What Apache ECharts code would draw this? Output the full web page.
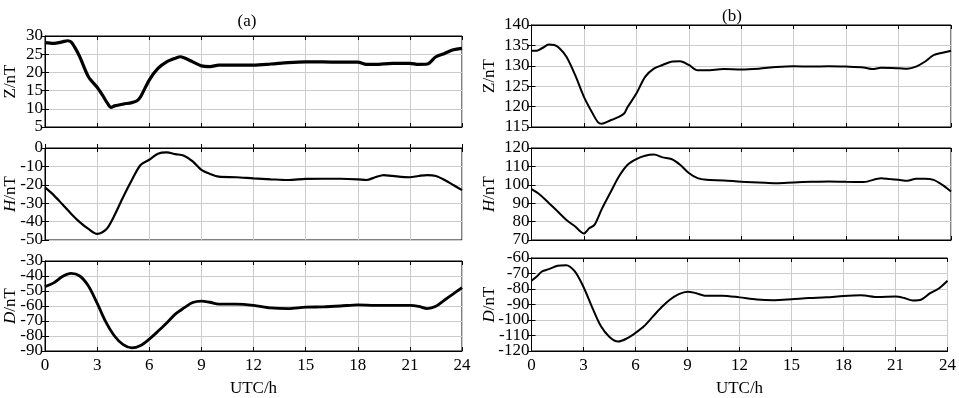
<!DOCTYPE html>
<html>
<head>
<meta charset="utf-8">
<script src="https://cdn.jsdelivr.net/npm/echarts@6/dist/echarts.min.js"></script>
<style>
  html, body { margin: 0; padding: 0; background: #fff; }
  #chart { width: 959px; height: 398px; }
</style>
</head>
<body>
<div id="chart"></div>
<script>
// y轴刻度文字 (从下到上)
const ticksZa = ["5", "10", "15", "20", "25", "30"];
const ticksHa = ["-50", "-40", "-30", "-20", "-10", "0"];
const ticksDa = ["-90", "-80", "-70", "-60", "-50", "-40", "-30"];
const ticksZb = ["115", "120", "125", "130", "135", "140"];
const ticksHb = ["70", "80", "90", "100", "110", "120"];
const ticksDb = ["-120", "-110", "-100", "-90", "-80", "-70", "-60"];

// (a) Z 分量
const tZa = [0, 0.5, 1, 1.3, 1.5, 1.7, 2, 2.5, 3, 3.3, 3.6, 3.8, 4, 4.5, 5, 5.3, 5.5, 6, 6.5, 7, 7.5, 7.8, 8, 8.5, 9, 9.5, 10, 11, 12, 13, 14, 15, 16, 17, 18, 18.5, 19, 20, 21, 21.5, 22, 22.5, 23, 23.5, 24];
const zA = [28.2, 28, 28.4, 28.7, 28.4, 27, 24.3, 18.8, 15.9, 13.8, 11.5, 10.4, 10.8, 11.3, 11.7, 12.2, 13.3, 17.9, 21.1, 22.9, 23.9, 24.3, 24, 22.9, 21.8, 21.6, 22, 22, 22, 22.3, 22.7, 22.9, 22.9, 22.8, 22.8, 22.2, 22.2, 22.5, 22.5, 22.2, 22.3, 24.3, 25.2, 26.2, 26.6];

// (b) Z 分量
const tZb = [0, 0.3, 0.6, 1, 1.3, 1.6, 2, 2.5, 3, 3.5, 3.8, 4, 4.5, 5, 5.3, 5.5, 6, 6.5, 7, 7.5, 8, 8.5, 9, 9.5, 10, 11, 12, 13, 14, 15, 16, 17, 18, 19, 19.5, 20, 21, 21.5, 22, 22.5, 23, 23.5, 24];
const zB = [133.7, 133.7, 134.3, 135.2, 135.1, 134.3, 132.2, 127.7, 122.4, 118.3, 116.2, 115.8, 116.6, 117.5, 118.3, 119.9, 123.2, 127.3, 129.3, 130.2, 131, 131.1, 130.2, 128.9, 128.9, 129.2, 129.1, 129.3, 129.7, 129.9, 129.8, 129.9, 129.8, 129.6, 129.2, 129.5, 129.4, 129.3, 129.8, 131, 132.6, 133.2, 133.7];

// (a) H 分量
const tHa = [0, 0.5, 1, 1.5, 2, 2.5, 3, 3.3, 3.6, 4, 4.5, 5, 5.5, 6, 6.5, 7, 7.5, 8, 8.5, 9, 9.5, 10, 11, 12, 13, 14, 15, 16, 17, 18, 18.5, 19, 19.5, 20, 21, 21.5, 22, 22.5, 23, 23.5, 24];
const hA = [-21.4, -25.6, -30.6, -35.7, -40.3, -44, -46.7, -45.8, -43.4, -36.6, -26.6, -17.4, -9.2, -6.4, -3.1, -2.4, -3.3, -4.2, -7.3, -11.9, -14.1, -15.6, -15.9, -16.5, -17, -17.4, -16.8, -16.7, -16.7, -17, -17.4, -15.9, -14.7, -15.2, -15.9, -15.2, -14.7, -15.2, -17.4, -20.1, -22.9];

// (b) H 分量
const tHb = [0, 0.5, 1, 1.5, 2, 2.5, 3, 3.3, 3.6, 4, 4.5, 5, 5.5, 6, 6.5, 7, 7.5, 8, 8.5, 9, 9.5, 10, 11, 12, 13, 14, 15, 16, 17, 18, 19, 20, 20.5, 21, 21.5, 22, 22.5, 23, 23.5, 24];
const hB = [97.6, 94.5, 90, 85.5, 80.9, 77.3, 73.6, 76.4, 78.2, 86.4, 95.5, 104.5, 110.9, 114, 115.8, 116.4, 114.9, 114, 110.9, 106.4, 103.6, 102.7, 102.4, 101.6, 101.3, 100.9, 101.3, 101.6, 101.8, 101.6, 101.5, 103.6, 103.1, 102.7, 102.2, 103.3, 103.3, 102.7, 100, 96.4];

// (a) D 分量
const tDa = [0, 0.5, 1, 1.5, 2, 2.5, 3, 3.5, 4, 4.5, 5, 5.5, 6, 6.5, 7, 7.5, 8, 8.5, 9, 9.5, 10, 11, 12, 13, 14, 15, 16, 17, 18, 19, 20, 21, 21.5, 22, 22.5, 23, 23.5, 24];
const dA = [-47.1, -44.6, -40.4, -38.3, -40, -46.7, -58.1, -70.6, -80, -85.8, -87.9, -86.3, -82.1, -76.9, -71.3, -65.4, -61.3, -57.7, -56.7, -57.5, -58.8, -58.8, -59.6, -61.3, -61.7, -60.8, -60.6, -60, -59.2, -59.6, -59.6, -59.6, -60.2, -61.7, -60.2, -56, -51.9, -47.7];

// (b) D 分量
const tDb = [0, 0.3, 0.6, 1, 1.5, 2, 2.5, 3, 3.5, 4, 4.5, 5, 5.5, 6, 6.5, 7, 7.5, 8, 8.5, 9, 9.5, 10, 11, 12, 13, 14, 15, 16, 17, 18, 19, 20, 21, 21.5, 22, 22.5, 23, 23.5, 24];
const dB = [-74.7, -72, -68.7, -67.2, -65, -64.6, -68.7, -78.7, -91.8, -103.9, -110.9, -113.9, -111.9, -108.3, -103.9, -97.8, -91.8, -86.8, -83.3, -81.7, -82.7, -84.3, -84.3, -85.4, -86.8, -87.2, -86.6, -85.8, -85.4, -84.5, -84.1, -85.2, -84.9, -85.8, -87.4, -86.8, -82.7, -79.7, -74.7];

const FONT = "Liberation Serif";
const FS = 17;

// 每个子图: 位置 + 轴范围 + 数据
const panels = [
  { left: 45, top: 36, width: 417, height: 91, min: 5, max: 30, step: 5, ticks: ticksZa, name: "{n|Z/nT}", gap: 26, t: tZa, v: zA, lw: 3.2, bottom: false },
  { left: 45, top: 148, width: 417, height: 92, min: -50, max: 0, step: 10, ticks: ticksHa, name: "{i|H}{n|/nT}", gap: 26, t: tHa, v: hA, lw: 2.2, bottom: false },
  { left: 45, top: 261, width: 417, height: 96, min: -90, max: -30, step: 10, ticks: ticksDa, name: "{i|D}{n|/nT}", gap: 26, t: tDa, v: dA, lw: 2.8, bottom: true },
  { left: 531.5, top: 25, width: 419.5, height: 102, min: 115, max: 140, step: 5, ticks: ticksZb, name: "{n|Z/nT}", gap: 33, t: tZb, v: zB, lw: 2, bottom: false },
  { left: 531.5, top: 148, width: 419.5, height: 92, min: 70, max: 120, step: 10, ticks: ticksHb, name: "{i|H}{n|/nT}", gap: 33, t: tHb, v: hB, lw: 2, bottom: false },
  { left: 531.5, top: 258, width: 419.5, height: 99, min: -120, max: -60, step: 10, ticks: ticksDb, name: "{i|D}{n|/nT}", gap: 33, t: tDb, v: dB, lw: 2, bottom: true }
];

const chart = echarts.init(document.getElementById("chart"), null, { renderer: "canvas" });

const grid = [], xAxis = [], yAxis = [], series = [];
const tickIn = { show: true, inside: true, length: 4, lineStyle: { color: "#000" } };
const gridLine = { show: true, lineStyle: { color: "#cccccc", width: 1 } };
const labelStyle = { color: "#000", fontFamily: FONT, fontSize: FS };

panels.forEach((p, i) => {
  grid.push({ left: p.left, top: p.top, width: p.width, height: p.height, show: true, borderColor: "#000", borderWidth: 1 });

  // 下方x轴
  xAxis.push({
    type: "value", gridIndex: i, min: 0, max: 24, interval: 3, position: "bottom",
    axisLine: { show: true, lineStyle: { color: "#000" } },
    axisTick: tickIn,
    splitLine: gridLine,
    axisLabel: Object.assign({ show: p.bottom, margin: 6, showMinLabel: true, showMaxLabel: true }, labelStyle),
    name: p.bottom ? "UTC/h" : "",
    nameLocation: "middle", nameGap: 29,
    nameTextStyle: labelStyle
  });
  // 上方x轴 (只画刻度)
  xAxis.push({
    type: "value", gridIndex: i, min: 0, max: 24, interval: 3, position: "top",
    axisLine: { show: true, lineStyle: { color: "#000" } },
    axisTick: tickIn, splitLine: { show: false }, axisLabel: { show: false }
  });
  // 左侧y轴 (数值轴: 刻度+网格)
  yAxis.push({
    type: "value", gridIndex: i, min: p.min, max: p.max, interval: p.step, position: "left",
    axisLine: { show: true, lineStyle: { color: "#000" } },
    axisTick: tickIn,
    splitLine: gridLine,
    axisLabel: { show: false },
    name: p.name, nameLocation: "middle", nameRotate: 90, nameGap: p.gap,
    nameTextStyle: {
      rich: {
        n: { fontFamily: FONT, fontSize: FS, color: "#000" },
        i: { fontFamily: FONT, fontSize: FS, color: "#000", fontStyle: "italic" }
      }
    }
  });
  // 右侧y轴 (只画刻度)
  yAxis.push({
    type: "value", gridIndex: i, min: p.min, max: p.max, interval: p.step, position: "right",
    axisLine: { show: true, lineStyle: { color: "#000" } },
    axisTick: tickIn, splitLine: { show: false }, axisLabel: { show: false }
  });
  // 刻度文字 (类目轴, 强制全部显示, 数值轴字号大时会自动隐藏一半)
  yAxis.push({
    type: "category", gridIndex: i, position: "left", boundaryGap: false, data: p.ticks,
    axisLine: { show: false }, axisTick: { show: false }, splitLine: { show: false },
    axisLabel: Object.assign({ interval: 0, margin: 2 }, labelStyle)
  });

  series.push({
    type: "line",
    xAxisIndex: i * 2,
    yAxisIndex: i * 3,
    data: p.t.map((t, k) => [t, p.v[k]]),
    showSymbol: false,
    smooth: 0.3,
    lineStyle: { color: "#000", width: p.lw },
    animation: false
  });
});

chart.setOption({
  backgroundColor: "#fff",
  animation: false,
  title: [
    { text: "(a)", left: 242, top: 8, textAlign: "center", textStyle: { fontFamily: FONT, fontSize: FS, fontWeight: "normal", color: "#000" } },
    { text: "(b)", left: 727, top: 3, textAlign: "center", textStyle: { fontFamily: FONT, fontSize: FS, fontWeight: "normal", color: "#000" } }
  ],
  grid: grid,
  xAxis: xAxis,
  yAxis: yAxis,
  series: series
});
</script>
</body>
</html>
